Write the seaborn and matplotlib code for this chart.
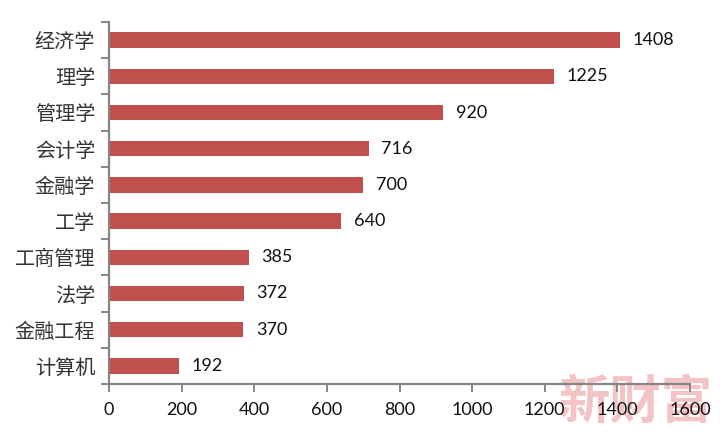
import matplotlib
matplotlib.use("Agg")
import matplotlib.pyplot as plt
import seaborn as sns
import pandas as pd
import numpy as np

categories = ["经济学", "理学", "管理学", "会计学", "金融学", "工学", "工商管理", "法学", "金融工程", "计算机"]
values = [1408, 1225, 920, 716, 700, 640, 385, 372, 370, 192]
x_ticks = [0, 200, 400, 600, 800, 1000, 1200, 1400, 1600]

sns.set_theme(style="white")
plt.rcParams['font.family'] = ['Lato', 'Noto Sans CJK SC', 'DejaVu Sans']

df = pd.DataFrame({"cat": categories, "val": values})
fig = plt.figure(figsize=(7.2, 4.36), dpi=100, facecolor="white")
ax = fig.add_axes([109/720, 1-384/436, (690-109)/720, (384-22)/436])
ax.patch.set_alpha(0)
sns.barplot(data=df, y="cat", x="val", order=categories, color="#C0504D", saturation=1, width=0.42,
            linewidth=0, ax=ax)

ax.set_xlim(0, 1600)
ax.set_ylim(len(categories)-0.5, -0.5)
ax.set_xlabel("")
ax.set_ylabel("")
for s in ["top", "right"]:
    ax.spines[s].set_visible(False)
for s in ["left", "bottom"]:
    ax.spines[s].set_color("#868686")
    ax.spines[s].set_linewidth(1.6)

ax.set_xticks(x_ticks)
ax.set_xticklabels([str(t) for t in x_ticks], fontsize=13, color="#111111")
ax.tick_params(axis="x", length=6, width=1.4, color="#868686", bottom=True, pad=7)

ax.set_yticks(np.arange(len(categories)))
ax.set_yticklabels(categories, fontsize=14.5, color="#333333", family=['Noto Sans CJK SC', 'DejaVu Sans'])
ax.tick_params(axis="y", which="major", length=0, pad=10)
ax.set_yticks(np.arange(len(categories)+1)-0.5, minor=True)
ax.tick_params(axis="y", which="minor", left=True, length=6, width=1.4, color="#868686")

for c in ax.containers:
    ax.bar_label(c, labels=[str(v) for v in values], padding=9, fontsize=13, color="#111111")

fig.text(636/720, 1-402/436, "新财富", fontsize=37, fontweight="bold", color="#F3C3C6",
         family=['Noto Sans CJK SC', 'DejaVu Sans'], ha="center", va="center", zorder=-1)

fig.savefig("out.png", dpi=100, facecolor="white")
